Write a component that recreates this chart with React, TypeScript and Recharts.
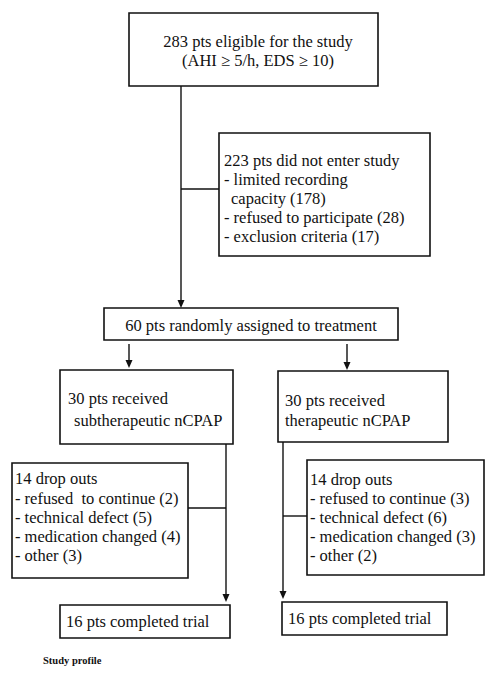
import React from "react";
import {
  ScatterChart,
  Scatter,
  XAxis,
  YAxis,
  ReferenceArea,
  ReferenceLine,
} from "recharts";

// ---- Text content of the flowchart ----
const eligibleLines = ["283 pts eligible for the study", "(AHI \u2265 5/h, EDS \u2265 10)"];
const excludedLines = [
  "223 pts did not enter study",
  "- limited recording",
  "capacity (178)",
  "- refused to participate (28)",
  "- exclusion criteria (17)",
];
const randomizedLines = ["60 pts randomly assigned to treatment"];
const subLines = ["30 pts received", "subtherapeutic nCPAP"];
const therLines = ["30 pts received", "therapeutic nCPAP"];
const subDropLines = [
  "14 drop outs",
  "- refused  to continue (2)",
  "- technical defect (5)",
  "- medication changed (4)",
  "- other (3)",
];
const therDropLines = [
  "14 drop outs",
  "- refused to continue (3)",
  "- technical defect (6)",
  "- medication changed (3)",
  "- other (2)",
];
const subCompletedLines = ["16 pts completed trial"];
const therCompletedLines = ["16 pts completed trial"];
const captionLines = ["Study profile"];

// ---- Layout (page coordinates used as the chart's data space) ----
const W = 486;
const H = 673;

type Box = { x1: number; x2: number; y1: number; y2: number };
const layout: Record<string, { box: Box; tx: number; ty: number[]; anchor: string; indent?: number[] }> = {
  eligible: { box: { x1: 129, x2: 378, y1: 13, y2: 86 }, tx: 258, ty: [41, 60], anchor: "middle" },
  excluded: {
    box: { x1: 219, x2: 430, y1: 133, y2: 256 },
    tx: 224,
    ty: [160, 179, 198, 217, 236],
    anchor: "start",
    indent: [0, 0, 7, 0, 0],
  },
  randomized: { box: { x1: 104, x2: 398, y1: 308, y2: 340 }, tx: 251, ty: [325], anchor: "middle" },
  sub: { box: { x1: 60, x2: 233, y1: 370, y2: 444 }, tx: 68, ty: [398, 420], anchor: "start", indent: [0, 6] },
  ther: { box: { x1: 278, x2: 448, y1: 371, y2: 442 }, tx: 285, ty: [400, 420], anchor: "start" },
  subDrop: { box: { x1: 12, x2: 188, y1: 463, y2: 578 }, tx: 15, ty: [478, 498, 517, 536, 555], anchor: "start" },
  therDrop: { box: { x1: 307, x2: 484, y1: 460, y2: 575 }, tx: 310, ty: [479, 498, 517, 536, 555], anchor: "start" },
  subCompleted: { box: { x1: 60, x2: 230, y1: 605, y2: 638 }, tx: 66, ty: [621], anchor: "start" },
  therCompleted: { box: { x1: 282, x2: 447, y1: 602, y2: 635 }, tx: 288, ty: [618], anchor: "start" },
};

const textSources: Record<string, string[]> = {
  eligible: eligibleLines,
  excluded: excludedLines,
  randomized: randomizedLines,
  sub: subLines,
  ther: therLines,
  subDrop: subDropLines,
  therDrop: therDropLines,
  subCompleted: subCompletedLines,
  therCompleted: therCompletedLines,
};

const connectors = [
  { a: { x: 181, y: 86 }, b: { x: 181, y: 302 } },
  { a: { x: 181, y: 189 }, b: { x: 219, y: 189 } },
  { a: { x: 129, y: 344 }, b: { x: 129, y: 362 } },
  { a: { x: 347, y: 344 }, b: { x: 347, y: 364 } },
  { a: { x: 226, y: 444 }, b: { x: 226, y: 596 } },
  { a: { x: 188, y: 508 }, b: { x: 226, y: 508 } },
  { a: { x: 283, y: 442 }, b: { x: 283, y: 593 } },
  { a: { x: 283, y: 516 }, b: { x: 307, y: 516 } },
];

const arrowTips = [
  { x: 181, y: 308 },
  { x: 129, y: 368 },
  { x: 347, y: 370 },
  { x: 226, y: 602 },
  { x: 283, y: 599 },
];

type TextPoint = { x: number; y: number; text: string; anchor: string; bold?: boolean; size: number };

const textPoints: TextPoint[] = [];
Object.keys(layout).forEach((k) => {
  const L = layout[k];
  textSources[k].forEach((t, i) => {
    textPoints.push({
      x: L.tx + (L.indent ? L.indent[i] : 0),
      y: L.ty[i],
      text: t,
      anchor: L.anchor,
      size: 16.5,
    });
  });
});
textPoints.push({ x: 43, y: 660, text: captionLines[0], anchor: "start", bold: true, size: 10.5 });

const FONT = "'Liberation Serif', 'Times New Roman', serif";
const INK = "#111";

const TextShape = (props: any) => {
  const { cx, cy } = props;
  const p = props.payload || props;
  return (
    <text
      x={cx}
      y={cy}
      textAnchor={p.anchor}
      dominantBaseline="central"
      fontFamily={FONT}
      fontSize={p.size}
      fontWeight={p.bold ? 700 : 400}
      fill={INK}
      style={{ whiteSpace: "pre" }}
    >
      {p.text}
    </text>
  );
};

const ArrowShape = (props: any) => {
  const { cx, cy } = props;
  return <polygon points={`${cx - 3.5},${cy - 8} ${cx + 3.5},${cy - 8} ${cx},${cy}`} fill={INK} />;
};

export default function App() {
  return (
    <div style={{ position: "absolute", left: 0, top: 0, width: W, height: H, background: "#fff" }}>
      <ScatterChart width={W} height={H} margin={{ top: 0, right: 0, bottom: 0, left: 0 }}>
        <XAxis type="number" dataKey="x" domain={[0, W]} hide allowDataOverflow />
        <YAxis type="number" dataKey="y" domain={[0, H]} reversed hide allowDataOverflow />
        {connectors.map((c, i) => (
          <ReferenceLine key={`c${i}`} segment={[c.a, c.b]} stroke={INK} strokeWidth={1.4} />
        ))}
        {Object.keys(layout).map((k) => {
          const b = layout[k].box;
          return (
            <ReferenceArea
              key={k}
              x1={b.x1}
              x2={b.x2}
              y1={b.y1}
              y2={b.y2}
              fill="#fff"
              fillOpacity={1}
              stroke={INK}
              strokeWidth={1.6}
            />
          );
        })}
        <Scatter data={arrowTips} shape={ArrowShape} isAnimationActive={false} />
        <Scatter data={textPoints} shape={TextShape} isAnimationActive={false} />
      </ScatterChart>
    </div>
  );
}
